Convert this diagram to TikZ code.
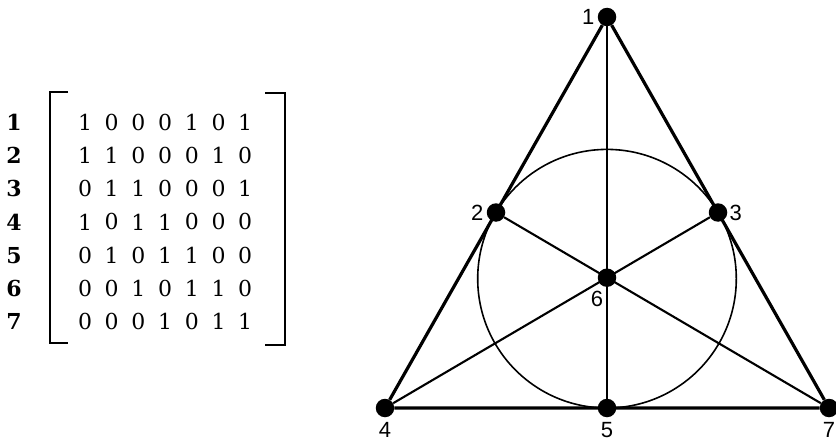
\documentclass[tikz,border=0pt]{standalone}
\usepackage{fontspec}
\setmainfont{DejaVu Serif}
\setsansfont{Liberation Sans}
\usetikzlibrary{positioning}

\begin{document}
\begin{tikzpicture}[
  x=1pt, y=-1pt,
  dot/.style={circle, fill, inner sep=0pt, minimum size=18.5pt},
  lab/.style={font=\sffamily\fontsize{22}{26}\selectfont, inner sep=1pt},
  entry/.style={font=\fontsize{22}{26}\selectfont, inner sep=0pt},
  rowno/.style={font=\bfseries\fontsize{22}{26}\selectfont, inner sep=0pt},
  side/.style={line width=3.2pt},
  median/.style={line width=2.1pt},
  brack/.style={line width=2pt}
]
\useasboundingbox (0,0) rectangle (836,444);

% incidence matrix
\foreach \r/\bits in {1/{1,0,0,0,1,0,1}, 2/{1,1,0,0,0,1,0}, 3/{0,1,1,0,0,0,1},
                      4/{1,0,1,1,0,0,0}, 5/{0,1,0,1,1,0,0}, 6/{0,0,1,0,1,1,0},
                      7/{0,0,0,1,0,1,1}}{
  \node[rowno] (r\r) at (14, 88.7+33.3*\r) {\r};
  \foreach \b [count=\c] in \bits
    \node[entry] (m\r\c) at (58.3+26.7*\c, 88.7+33.3*\r) {\b};
}
\draw[brack] (68,92) -- (50,92) -- (50,343) -- (68,343);
\draw[brack] (265,93) -- (285,93) -- (285,345) -- (265,345);

% Fano plane
\node[dot, label={[lab, label distance=2pt]left:1}] (n1) at (607,17) {};
\node[dot, label={[lab, label distance=2pt]left:2}] (n2) at (496,212.5) {};
\node[dot, label={[lab, label distance=1pt]right:3}] (n3) at (718,212.5) {};
\node[dot, label={[lab, label distance=4pt]below:4}] (n4) at (385,408) {};
\node[dot, label={[lab, label distance=4pt]below:5}] (n5) at (607,408) {};
\node[dot, label={[lab, label distance=3pt, xshift=-10pt]below:6}] (n6) at (607,277.7) {};
\node[dot, label={[lab, label distance=4pt]below:7}] (n7) at (829,408) {};

\draw[side] (n1) -- (n4) -- (n7) -- (n1);
\draw[median] (n1) -- (n5);
\draw[median] (n2) -- (n7);
\draw[median] (n3) -- (n4);
\draw[line width=1.6pt] (607,278.7) circle[radius=129.3pt];
\end{tikzpicture}
\end{document}
